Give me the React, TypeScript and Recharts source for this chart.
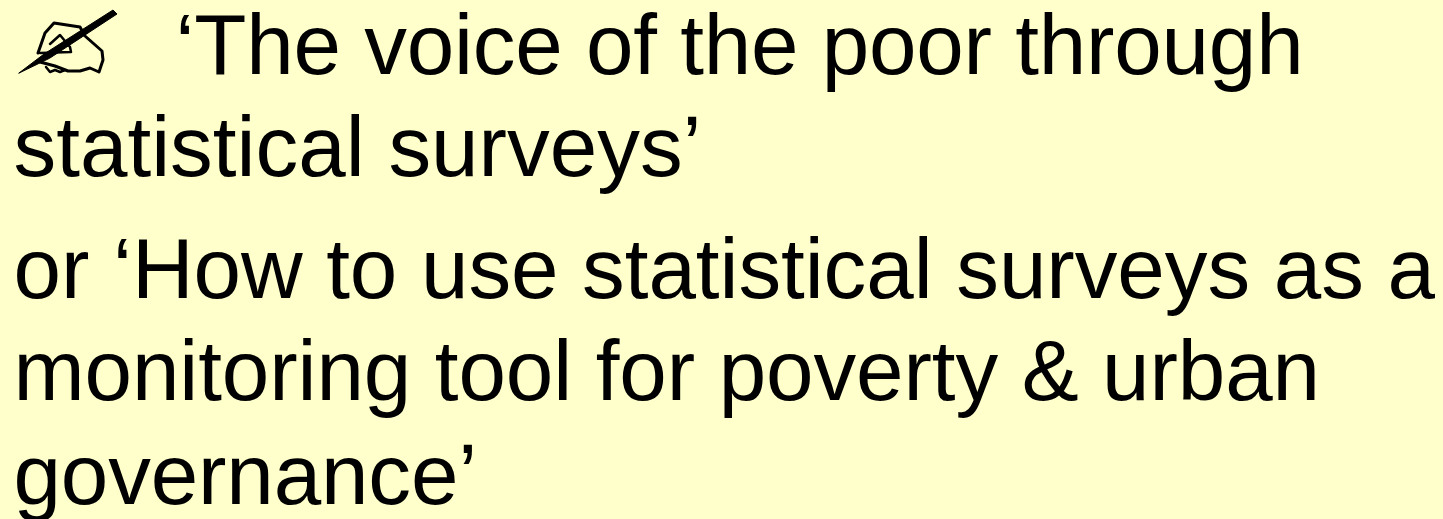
import React from "react";
import { ComposedChart, XAxis, YAxis } from "recharts";

const slideLines = [
  "‘The voice of the poor through",
  "statistical surveys’",
  "or ‘How to use statistical surveys as a",
  "monitoring tool for poverty & urban",
  "governance’",
];
const lineLeft = [175.5, 13.5, 13.5, 13.5, 13.5];
const lineBaseline = [74, 176, 298, 400, 504];
const lineTracking = [-0.22, 0, -0.06, -0.1, -0.15];

const WIDTH = 1443;
const HEIGHT = 519;
const INK = "#000000";
const PAPER = "#FFFFCC";

function PenIcon() {
  return (
    <g fill="none" stroke={INK} strokeLinejoin="round" strokeLinecap="round">
      <path d="M19 73 L44 54 L113 10 L117 14 L50 58 Z" fill={INK} strokeWidth={1} />
      <path d="M38 53 L45 33 L54 23 L80 27 L85 36 L102 51 L103 60 L99 72 L90 68 L80 71 L68 71 L55 66 L40 62" strokeWidth={3} />
      <path d="M50 44 L60 35 L70 47 L71 52 L40 53 M46 67 L50 72 L55 70 L60 72 L65 70" strokeWidth={2.5} />
    </g>
  );
}

export default function App() {
  return (
    <div style={{ position: "absolute", left: 0, top: 0, width: WIDTH, height: HEIGHT, background: PAPER, overflow: "hidden" }}>
      <ComposedChart width={WIDTH} height={HEIGHT} data={[]} margin={{ top: 0, right: 0, bottom: 0, left: 0 }}>
        <XAxis type="number" domain={[0, WIDTH]} hide />
        <YAxis type="number" domain={[0, HEIGHT]} hide />
        <PenIcon />
        {slideLines.map((line, i) => (
          <text key={i} x={lineLeft[i]} y={lineBaseline[i]} fontFamily="'Liberation Sans', Arial, sans-serif" fontSize={85.4} letterSpacing={lineTracking[i]} fill={INK}>
            {line}
          </text>
        ))}
      </ComposedChart>
    </div>
  );
}
